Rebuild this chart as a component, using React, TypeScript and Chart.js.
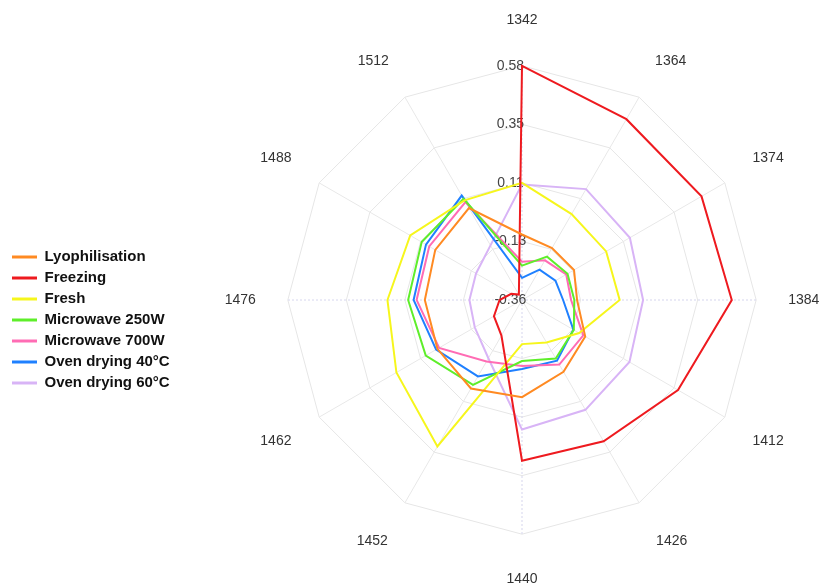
import React, { useEffect, useRef } from 'react';
import { Chart, registerables } from 'chart.js';

Chart.register(...registerables);

const categories = ['1342', '1364', '1374', '1384', '1412', '1426', '1440', '1452', '1462', '1476', '1488', '1512'];

const lyophilisation = [-0.097, -0.119, -0.119, -0.139, -0.067, -0.027, 0.03, 0.05, 0.032, 0.03, 0.042, 0.066];
const freezing = [0.58, 0.478, 0.472, 0.482, 0.363, 0.295, 0.285, -0.195, -0.23, -0.27, -0.31, -0.335];
const fresh = [0.11, 0.038, 0.03, 0.032, -0.095, -0.163, -0.183, 0.319, 0.222, 0.18, 0.158, 0.102];
const microwave250 = [-0.222, -0.159, -0.149, -0.15, -0.12, -0.089, -0.115, 0.033, 0.086, 0.097, 0.105, 0.109];
const microwave700 = [-0.206, -0.176, -0.155, -0.163, -0.076, -0.061, -0.095, -0.075, 0.024, 0.063, 0.07, 0.094];
const oven40 = [-0.271, -0.219, -0.205, -0.195, -0.122, -0.079, -0.083, -0.006, 0.038, 0.075, 0.085, 0.124];
const oven60 = [0.104, 0.154, 0.14, 0.126, 0.138, 0.149, 0.16, -0.09, -0.141, -0.149, -0.147, -0.107];

const seriesNames = ['Lyophilisation', 'Freezing', 'Fresh', 'Microwave 250W', 'Microwave 700W', 'Oven drying 40°C', 'Oven drying 60°C'];
const seriesValues = [lyophilisation, freezing, fresh, microwave250, microwave700, oven40, oven60];
const seriesColors = ['#ff8a22', '#ee1a1f', '#f6f61c', '#5eee2a', '#ff6cb4', '#1f80ff', '#d8b4f6'];

const tickLabels = ['-0.36', '-0.13', '0.11', '0.35', '0.58'];
const scaleMin = -0.36;
const scaleMax = 0.58;

const labelPadding = [28, 23, 23, 23, 23, 25, 28, 25, 23, 23, 23, 23];

const FONT = "'Liberation Sans', Arial, sans-serif";

// canvas is wider than the 819px window; the overflow is clipped so the
// radar centre sits where the reference has it
const CANVAS_W = 874;
const CANVAS_H = 588;

export default function App() {
  const ref = useRef<HTMLCanvasElement | null>(null);

  useEffect(() => {
    if (!ref.current) return;
    Chart.defaults.font.family = FONT;
    const chart = new Chart(ref.current, {
      type: 'radar',
      data: {
        labels: categories,
        datasets: seriesNames.map((name, i) => ({
          label: name,
          data: seriesValues[i],
          borderColor: seriesColors[i],
          backgroundColor: seriesColors[i],
          borderWidth: 2,
          pointRadius: 0,
          pointHoverRadius: 0,
          fill: false,
          tension: 0,
        })),
      },
      options: {
        responsive: false,
        animation: false,
        devicePixelRatio: 1,
        layout: { padding: { left: 6, top: 12, bottom: 0, right: 0 } },
        plugins: {
          tooltip: { enabled: false },
          legend: {
            position: 'left',
            maxWidth: 165,
            title: { display: true, text: '', font: { size: 10 }, padding: { top: 0, bottom: 28 } },
            labels: {
              boxWidth: 25,
              boxHeight: 3,
              padding: 6,
              color: '#111',
              font: { family: FONT, size: 15, weight: 'bold' },
              generateLabels: (c: any) =>
                Chart.defaults.plugins.legend.labels.generateLabels(c).map((l: any) => ({
                  ...l,
                  fillStyle: l.strokeStyle,
                  lineWidth: 0,
                })),
            },
          },
        },
        scales: {
          r: {
            min: scaleMin,
            max: scaleMax,
            ticks: {
              count: 5,
              showLabelBackdrop: false,
              color: '#444',
              font: { family: FONT, size: 14 },
              callback: (_v: any, i: number) => tickLabels[i] + '      ',
            },
            grid: { color: '#e6e6e6', lineWidth: 1 },
            angleLines: {
              color: (ctx: any) => (ctx.index % 3 === 0 ? '#d6d6ee' : '#e8e8e8'),
              borderDash: (ctx: any) => (ctx.index % 3 === 0 ? [2, 2] : []),
              lineWidth: 1,
            },
            pointLabels: {
              color: '#333',
              font: { family: FONT, size: 14 },
              padding: (ctx: any) => labelPadding[ctx.index],
            },
          },
        },
      } as any,
    });
    return () => chart.destroy();
  }, []);

  return (
    <div style={{ position: 'fixed', left: 0, top: 0, width: 819, height: 587, overflow: 'hidden', background: '#fff' }}>
      <canvas ref={ref} width={CANVAS_W} height={CANVAS_H} style={{ display: 'block', width: CANVAS_W, height: CANVAS_H }} />
    </div>
  );
}
